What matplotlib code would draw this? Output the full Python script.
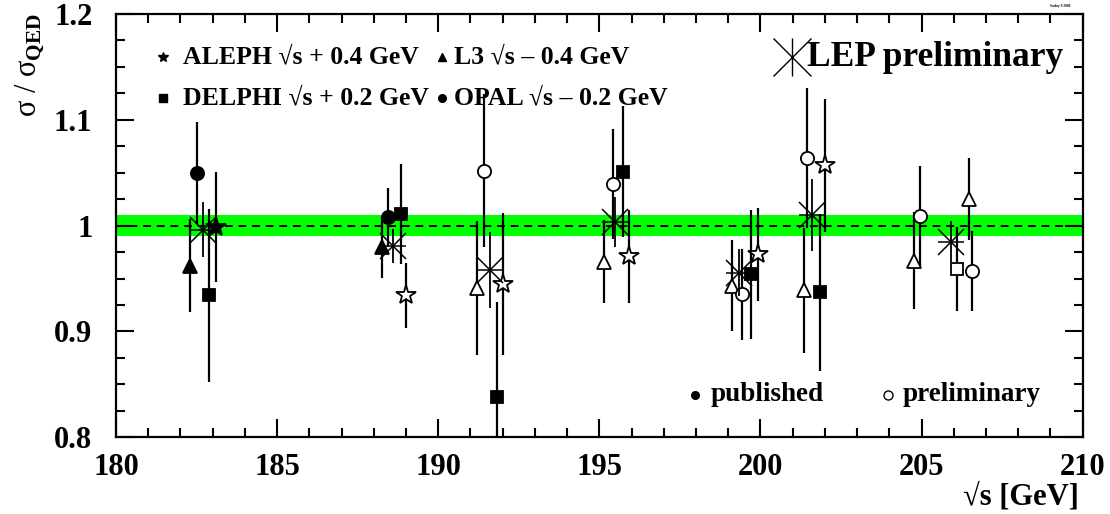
import matplotlib
matplotlib.use('Agg')
import matplotlib.pyplot as plt
from matplotlib.ticker import MultipleLocator, FixedLocator

plt.rcParams['font.family'] = ['Liberation Serif', 'DejaVu Serif']
plt.rcParams['font.weight'] = 'bold'
plt.rcParams['mathtext.fontset'] = 'custom'
plt.rcParams['mathtext.rm'] = 'Liberation Serif:bold'
plt.rcParams['mathtext.bf'] = 'Liberation Serif:bold'

# measured cross sections divided by the QED expectation
aleph_e = [183.10, 189.00, 192.02, 195.91, 199.91, 202.01]
aleph_r = [0.999, 0.934, 0.945, 0.971, 0.973, 1.057]
aleph_err = [0.052, 0.031, 0.067, 0.044, 0.044, 0.063]
aleph_pub = [1, 0, 0, 0, 0, 0]

delphi_e = [182.89, 188.83, 191.83, 195.74, 199.72, 201.85, 206.10]
delphi_r = [0.934, 1.011, 0.838, 1.051, 0.954, 0.937, 0.959]
delphi_err = [0.082, 0.047, 0.090, 0.062, 0.061, 0.074, 0.040]
delphi_pub = [1, 1, 1, 1, 1, 1, 0]

l3_e = [182.30, 188.24, 191.19, 195.13, 199.13, 201.36, 204.76, 206.47]
l3_r = [0.962, 0.980, 0.941, 0.966, 0.943, 0.939, 0.967, 1.025]
l3_err = [0.044, 0.029, 0.063, 0.039, 0.043, 0.059, 0.046, 0.039]
l3_pub = [1, 1, 0, 0, 0, 0, 0, 0]

opal_e = [182.50, 188.43, 191.42, 195.41, 199.42, 201.43, 204.95, 206.57]
opal_r = [1.050, 1.008, 1.052, 1.039, 0.935, 1.064, 1.009, 0.957]
opal_err = [0.048, 0.028, 0.072, 0.052, 0.043, 0.066, 0.047, 0.038]
opal_pub = [1, 1, 0, 0, 0, 0, 0, 0]

lep_e = [182.69, 188.60, 191.60, 195.50, 199.33, 201.60, 205.91]
lep_r = [0.996, 0.9805, 0.958, 1.0035, 0.9555, 1.0097, 0.985]
lep_err = [0.026, 0.016, 0.036, 0.024, 0.022, 0.034, 0.019]

band_lo, band_hi = 0.99, 1.01

fig = plt.figure(figsize=(11.1, 5.14), dpi=100)
ax = fig.add_axes([0.1045, 0.1492, 0.8709, 0.8236])

ax.axhspan(band_lo, band_hi, color='#00ff00', lw=0, zorder=1)
ax.axhline(1.0, color='black', lw=1.4, ls=(0, (4, 3)), zorder=2)


def draw_exp(e, r, err, pub, marker, ms):
    ax.errorbar(e, r, yerr=err, fmt='none', ecolor='black', elinewidth=1.6,
                capsize=0, zorder=3)
    for xi, yi, p in zip(e, r, pub):
        ax.plot(xi, yi, marker=marker, ms=ms, mec='black', mew=1.3,
                mfc='black' if p else 'white', ls='none', zorder=5)


draw_exp(aleph_e, aleph_r, aleph_err, aleph_pub, '*', 15)
draw_exp(delphi_e, delphi_r, delphi_err, delphi_pub, 's', 9)
draw_exp(l3_e, l3_r, l3_err, l3_pub, '^', 9.5)
draw_exp(opal_e, opal_r, opal_err, opal_pub, 'o', 9.5)

# LEP combination
ax.errorbar(lep_e, lep_r, yerr=lep_err, fmt='none', ecolor='black',
            elinewidth=1.3, capsize=0, zorder=6)
ax.plot(lep_e, lep_r, marker='x', ms=19, mec='black', mew=1.1, ls='none', zorder=6)
ax.plot(lep_e, lep_r, marker='_', ms=19, mec='black', mew=1.1, ls='none', zorder=6)

ax.set_xlim(180, 210)
ax.set_ylim(0.8, 1.2)
ax.xaxis.set_major_locator(MultipleLocator(5))
ax.xaxis.set_minor_locator(MultipleLocator(1))
ax.yaxis.set_major_locator(FixedLocator([0.8, 0.9, 1.0, 1.1, 1.2]))
ax.yaxis.set_minor_locator(MultipleLocator(0.025))
ax.set_yticklabels(['0.8', '0.9', '1', '1.1', '1.2'])
ax.tick_params(which='both', direction='in', top=True, right=True,
               labeltop=False, labelright=False, width=1.5, labelsize=22)
ax.tick_params(which='major', length=13)
ax.tick_params(which='minor', length=6.5)
ax.tick_params(axis='y', pad=17)
ax.tick_params(axis='x', pad=11)
for s in ax.spines.values():
    s.set_linewidth(1.6)

# legend drawn by hand
tr = ax.transAxes
leg_font = 18.5
ax.plot(0.0486, 0.898, marker='*', ms=7, color='black', transform=tr, clip_on=False)
ax.text(0.0693, 0.898, 'ALEPH √s + 0.4 GeV', transform=tr, fontsize=leg_font,
        va='center', ha='left')
ax.plot(0.0486, 0.8016, marker='s', ms=6, color='black', transform=tr, clip_on=False)
ax.text(0.0693, 0.8016, 'DELPHI √s + 0.2 GeV', transform=tr, fontsize=leg_font,
        va='center', ha='left')
ax.plot(0.337, 0.898, marker='^', ms=5.5, color='black', transform=tr, clip_on=False)
ax.text(0.3496, 0.898, 'L3 √s – 0.4 GeV', transform=tr, fontsize=leg_font,
        va='center', ha='left')
ax.plot(0.337, 0.8016, marker='o', ms=5.5, color='black', transform=tr, clip_on=False)
ax.text(0.3496, 0.8016, 'OPAL √s – 0.2 GeV', transform=tr, fontsize=leg_font,
        va='center', ha='left')
ax.plot(0.6995, 0.898, marker='x', ms=27, mec='black', mew=1.0, transform=tr, clip_on=False)
ax.plot(0.6995, 0.898, marker='|', ms=27, mec='black', mew=1.0, transform=tr, clip_on=False)
ax.text(0.7143, 0.898, 'LEP preliminary', transform=tr, fontsize=25.5,
        va='center', ha='left')

ax.plot(0.599, 0.1, marker='o', ms=5.5, color='black', transform=tr, clip_on=False)
ax.text(0.6156, 0.1, 'published', transform=tr, fontsize=19.5, va='center', ha='left')
ax.plot(0.7986, 0.1, marker='o', ms=6.5, mfc='white', mec='black', mew=1.0,
        transform=tr, clip_on=False)
ax.text(0.814, 0.1, 'preliminary', transform=tr, fontsize=19.5, va='center', ha='left')

fig.text(0.9724, 0.033, '√s [GeV]', fontsize=22, ha='right', va='center')
fig.text(0.027, 0.975, 'σ / σ$_{\\mathrm{QED}}$', fontsize=22, rotation=90,
         ha='center', va='top', fontweight='normal')
fig.text(0.955, 0.992, 'Saclay 9/2000', fontsize=2.5, ha='center', va='top')

fig.savefig('out.png', dpi=100)
